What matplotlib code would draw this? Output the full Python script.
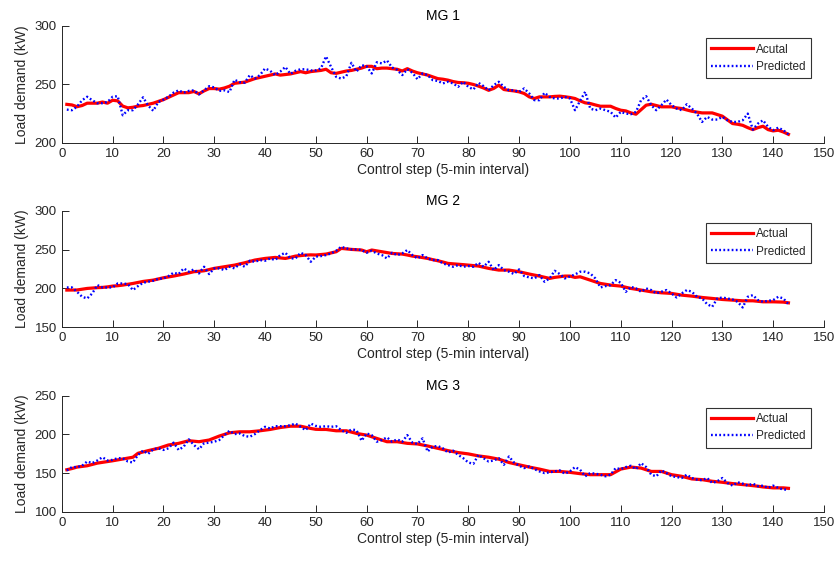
import matplotlib
matplotlib.use("Agg")
import matplotlib.pyplot as plt
import numpy as np

# control steps 1..143 (5-min intervals)
steps = np.arange(1, 144)

mg1_actual = [
    233, 232.5, 231, 232, 234, 234, 234, 235, 234, 236.5, 236, 231.5, 230, 230.5, 231.5, 232, 233, 234, 235.5, 237,
    239, 241, 243, 243, 243, 244, 242, 244.5, 246.5, 246.5, 246, 247, 248.5, 251, 251.5, 252, 253.5, 255, 256, 257,
    258, 259, 258, 258.5, 259, 260, 261, 260, 261, 261.5, 262, 263, 260, 259.5, 260.5, 261.5, 262, 263, 264, 265.5,
    265.5, 263.5, 264, 264, 263.5, 263, 261.5, 263.5, 261.5, 260, 259, 258, 256.5, 255, 254.5, 253.7, 252.5, 251.7, 251.5, 251,
    250, 248.6, 247, 245, 246.6, 249.4, 245.7, 245, 244.5, 243.7, 242.3, 239.4, 238, 239.4, 239.4, 239.4, 239.8, 240, 239.5, 238.9,
    238, 236, 234.3, 233.7, 232.5, 231.4, 231.4, 231.4, 229.5, 228, 227.4, 225.7, 224.6, 228.5, 232.3, 233.1, 232, 230.9, 230.9, 230.9,
    230, 229.4, 228.2, 227.1, 226.4, 225.7, 225.7, 225.7, 224.3, 222.9, 219.8, 216.6, 216, 215.1, 213.1, 211.4, 213.1, 214.3, 211.4, 210.3,
    210.9, 209.4, 207.4,
]
mg1_pred = [
    228.5, 228, 231, 236.5, 239.5, 236.5, 234, 234, 235, 239.5, 240, 223.7, 228, 228, 233, 239, 232, 227.5, 235, 237,
    239.5, 243, 245, 243, 244.5, 245, 241.5, 245, 248.5, 247.5, 244.5, 245, 243.5, 254, 252, 251.5, 258, 255, 258, 263.7,
    261.7, 258, 261, 265, 259, 261.7, 263, 263, 262, 262, 263.7, 274, 265, 256.5, 255, 257, 268.5, 261, 266.5, 265.5,
    259.4, 269, 268, 270.5, 264.5, 262.5, 258, 263, 260, 254.5, 259.4, 258, 253.7, 253, 250.9, 252.3, 250.9, 248, 252.3, 248,
    245.7, 251.4, 248.6, 245, 249.4, 252.3, 248, 245, 245, 243.7, 246.6, 242.3, 236.6, 236.6, 242.9, 239.4, 238, 238, 239.4, 238,
    228, 236, 243.7, 229.4, 228, 229.4, 228, 226.6, 221.7, 226.6, 225.1, 224.6, 226.6, 236.6, 240, 232.3, 228, 232.3, 237.1, 232.3,
    229.4, 228, 233.1, 229.4, 225.1, 218, 222.3, 220, 220, 222.3, 219.4, 218, 218, 219.4, 225.1, 211.4, 216.6, 219.4, 213.7, 210.9,
    213.1, 210.9, 207.4,
]

mg2_actual = [
    197.9, 198, 198, 199, 200, 200.5, 201, 201.3, 202, 203, 203.5, 204.3, 205.3, 206.4, 207.7, 209, 209.8, 210.7, 212.2, 213.7,
    214.8, 215.9, 217.2, 218.5, 220, 221.5, 222, 222.7, 224.2, 225.8, 226.8, 227.9, 229, 230, 231.5, 233, 234.8, 236.5, 237.5, 238.6,
    239.2, 239.9, 239.2, 238.6, 240, 241.6, 242.2, 242.9, 243.2, 243, 243.6, 244.2, 245.7, 247.2, 251.5, 250.8, 250.2, 249.8, 249.4, 247.2,
    249.4, 248.3, 247.2, 246, 245, 244.6, 244.2, 243, 241.6, 240.8, 239.7, 238.6, 237, 235.6, 234, 232.2, 231.7, 231.3, 230.6, 230,
    229.4, 228.8, 227.3, 225.8, 224.7, 223.6, 223.6, 223.6, 222.5, 221.5, 220, 218.5, 217.2, 215.9, 214.4, 212.9, 214.2, 215, 215.9, 215.9,
    214.2, 215, 212.8, 210.7, 208.5, 206.4, 205.3, 204.3, 203.6, 203, 201.5, 200, 199, 197.9, 196.8, 195.7, 195, 194.4, 194, 193.6,
    192.5, 191.4, 190.8, 190.1, 189.2, 188.4, 187.8, 187.1, 186.5, 185.8, 185.4, 185, 184.5, 184.1, 184.1, 184.1, 183.4, 182.8, 182.8, 182.8,
    182.6, 182.4, 181.5,
]
mg2_pred = [
    201.3, 201.3, 195.7, 189.3, 187.1, 193.6, 204.3, 201.3, 201.3, 201.3, 206.4, 206.4, 205.6, 197.9, 203, 207.3, 208.6, 209.9, 212.4, 212.9,
    215.9, 220.2, 218.5, 225.8, 221.5, 224.5, 219.3, 227.9, 218.5, 225.8, 225.8, 223.6, 227.9, 225.8, 231.3, 227.9, 235.6, 234.3, 236.5, 235.6,
    238.6, 236.5, 242.9, 245.9, 238.6, 238.6, 245.9, 242.9, 234.3, 241, 241.6, 242.9, 245, 248.5, 253.6, 251.5, 250.2, 250.2, 249.4, 245.9,
    248.5, 245, 242.9, 238.6, 245.9, 242.9, 245, 249.4, 242.9, 238.6, 242.9, 238.6, 236.5, 236.5, 232.2, 230, 227.9, 230, 227.9, 228.8,
    227.9, 233, 227.9, 234.3, 223.6, 230, 223.6, 221.5, 218.5, 224.5, 215.9, 214.2, 212.9, 217.2, 208.6, 212.9, 222.7, 218.5, 212.9, 215.5,
    218, 221.5, 221.5, 219.3, 212.9, 201.3, 203, 204.3, 210.7, 207.3, 195.7, 202.1, 200, 195.7, 200, 197.9, 193.6, 195.7, 197.9, 193.6,
    188.4, 193.6, 197.9, 195.7, 189.3, 187.1, 179.8, 176.4, 187.1, 188.4, 187.1, 185.8, 182.8, 175.5, 189.3, 191.4, 185, 182.8, 184.1, 185,
    189.3, 187.1, 179.8,
]

mg3_actual = [
    154.5, 156, 157.9, 158.8, 159.6, 161.3, 163, 164, 165.1, 166, 167.2, 168.3, 169.4, 170.6, 175.7, 177.4, 179.1, 180.6, 182.1, 184.2,
    186.4, 187.4, 188.5, 190.2, 191.9, 191.2, 190.6, 191.7, 192.8, 195.3, 197.9, 200, 202.1, 202.8, 203.4, 203.4, 203.4, 204, 204.7, 205.5,
    206.4, 207.6, 208.9, 209.8, 210.6, 210.6, 210.6, 209.2, 207.7, 206.6, 206.4, 206.4, 205.5, 204.7, 204.7, 204.7, 203, 201.3, 200.2, 199.1,
    197, 194.9, 192.8, 190.6, 190.6, 190.6, 189.5, 188.5, 188.1, 187.7, 186.4, 185.1, 183.6, 182.1, 180.6, 179.1, 177.9, 176.6, 175.7, 174.9,
    173.6, 172.3, 171.5, 170.6, 169.4, 168.1, 166, 163.8, 162.3, 160.9, 159.4, 157.9, 156.6, 155.3, 153.8, 152.3, 152.3, 152.3, 151.7, 151.1,
    150.2, 149.4, 148.8, 148.1, 148.1, 148.1, 148.1, 148.1, 151.7, 155.3, 156.6, 157.9, 157.2, 156.6, 154.5, 152.3, 152.3, 152.3, 150.2, 148.1,
    147, 146, 144.3, 142.6, 142.2, 141.7, 140.6, 139.6, 139, 138.3, 137.4, 136.6, 136, 135.3, 134.7, 134, 133.2, 132.3, 131.7, 131.1,
    131.1, 131.1, 130.5,
]
mg3_pred = [
    153.6, 157.9, 157.9, 159.6, 165.1, 163, 166.4, 170.6, 166.4, 167.2, 169.4, 169.4, 165.1, 163.8, 173.6, 179.1, 174.9, 180.9, 182.1, 180,
    182.1, 189.4, 180, 184.3, 193.6, 186.4, 180.9, 188.5, 189.4, 190.6, 192.8, 199.1, 204.7, 200.4, 201.3, 197.9, 197, 200.4, 205.5, 209.8,
    207.7, 210.6, 210.6, 210.6, 211.9, 214, 209.8, 205.5, 214, 211, 209.8, 210.6, 209.8, 210.6, 205.5, 202.1, 206.4, 205.5, 191.9, 201.3,
    199.1, 190.6, 192.8, 196.2, 190.6, 193.6, 190.6, 199.1, 189.4, 187.7, 194.9, 177.9, 184.3, 185.1, 182.1, 176.6, 179.1, 173.6, 169.4, 163.8,
    162.1, 173.6, 169.4, 165.1, 166.4, 169.4, 160.9, 171.5, 163.8, 159.6, 156.6, 158.7, 155.3, 152.3, 150.2, 151.1, 152.3, 153.6, 149.4, 152.3,
    157.9, 154.5, 146, 150.2, 149.4, 148.1, 146, 148.1, 156.6, 155.3, 157.9, 159.6, 155.3, 163, 157.9, 148.1, 146, 153.6, 150.2, 146,
    145.1, 143.8, 148.1, 143.8, 141.7, 140.9, 143.8, 137.4, 139.6, 143.8, 137.4, 134, 138.3, 136.6, 134, 136.6, 133.2, 134, 131.1, 134,
    131.1, 128.9, 128.9,
]

titles = ["MG 1", "MG 2", "MG 3"]
actual_labels = ["Acutal", "Actual", "Actual"]  # first panel typo kept as in original
ylims = [(200, 300), (150, 300), (100, 250)]
yticks = [[200, 250, 300], [150, 200, 250, 300], [100, 150, 200, 250]]
xticks = list(range(0, 151, 10))

plt.rcParams["font.family"] = ["Liberation Sans", "DejaVu Sans"]
plt.rcParams["font.size"] = 9.5
axis_gray = "#262626"

fig = plt.figure(figsize=(8.38, 5.62), dpi=100)
# axes rectangles [left, bottom, width, height] in figure fraction
rects = [
    [0.0737, 0.7456, 0.9096, 0.2082],
    [0.0737, 0.4176, 0.9096, 0.2075],
    [0.0737, 0.0890, 0.9096, 0.2070],
]

series = [(mg1_actual, mg1_pred), (mg2_actual, mg2_pred), (mg3_actual, mg3_pred)]
for i, (act, pred) in enumerate(series):
    ax = fig.add_axes(rects[i])
    ax.plot(steps, act, "-", color="red", linewidth=2.3, label=actual_labels[i])
    ax.plot(steps, pred, color="blue", linewidth=1.7, dashes=(0.75, 1.0), label="Predicted")
    ax.set_xlim(0, 150)
    ax.set_ylim(*ylims[i])
    ax.set_xticks(xticks)
    ax.set_yticks(yticks[i])
    ax.set_title(titles[i], fontsize=10, color="black", pad=4)
    ax.set_xlabel("Control step (5-min interval)", fontsize=10, color=axis_gray, labelpad=2)
    ax.set_ylabel("Load demand (kW)", fontsize=10, color=axis_gray, labelpad=4)

    ax.spines["top"].set_visible(False)
    ax.spines["right"].set_visible(False)
    for side in ["left", "bottom"]:
        ax.spines[side].set_color(axis_gray)
        ax.spines[side].set_linewidth(0.7)
    ax.tick_params(direction="in", length=5, width=0.7, colors=axis_gray, labelsize=9.5)

    leg = ax.legend(loc="upper right", bbox_to_anchor=(0.9825, 0.895), fontsize=8.5,
                    frameon=True, fancybox=False, handlelength=3.6, handletextpad=0.2,
                    borderpad=0.45, labelspacing=0.45, borderaxespad=0)
    leg.get_frame().set_edgecolor("black")
    leg.get_frame().set_linewidth(0.8)
    for t in leg.get_texts():
        t.set_color(axis_gray)

fig.savefig("out.png", dpi=100)
